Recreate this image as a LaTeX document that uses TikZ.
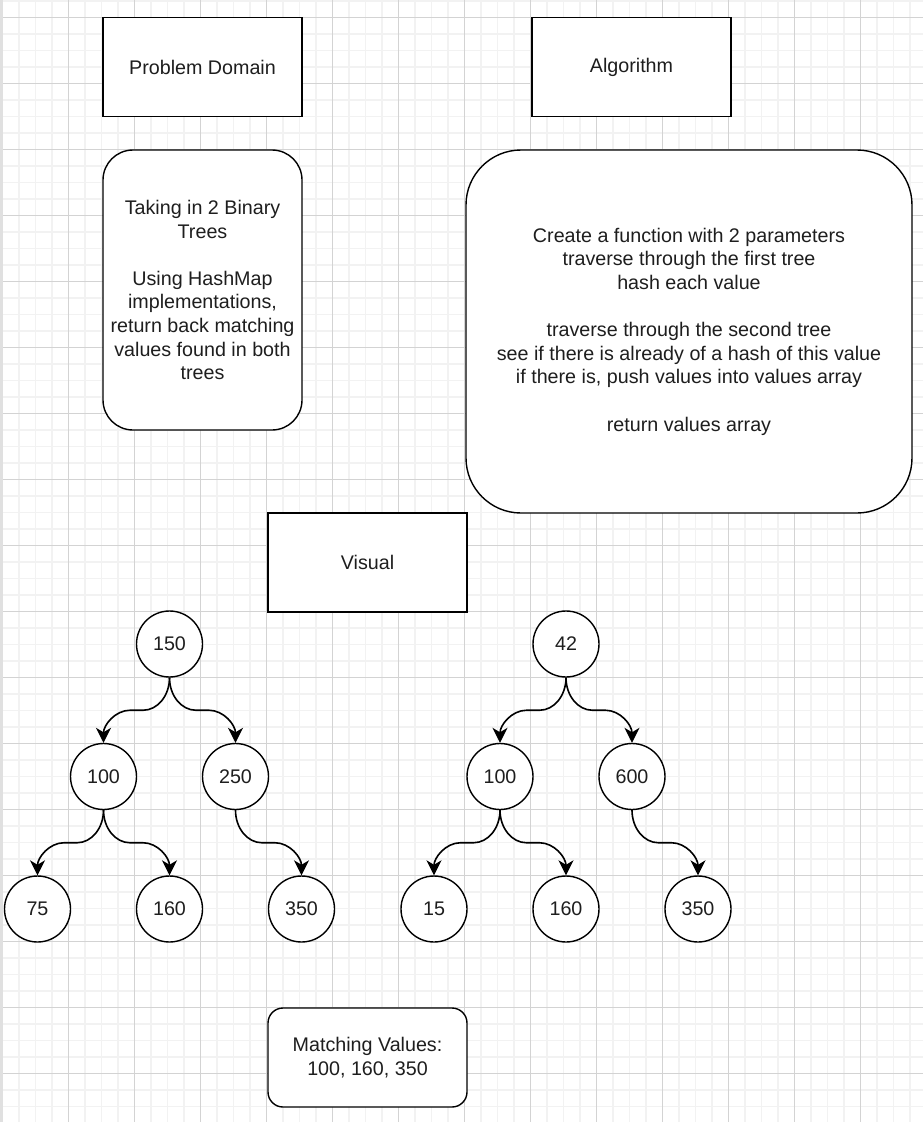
\documentclass[tikz,border=0pt]{standalone}
\usepackage{fontspec}
\setmainfont{Liberation Sans}
\usetikzlibrary{arrows.meta,calc}
\definecolor{minorc}{HTML}{F2F2F2}
\definecolor{majorc}{HTML}{D3D3D3}
\definecolor{edgec}{HTML}{E0E0E0}
\definecolor{txt}{HTML}{1E1E1E}
\begin{document}
\begin{tikzpicture}[x=1pt,y=-1pt,
  every node/.style={font=\fontsize{19.7}{23.6}\selectfont, text=txt},
  minorline/.style={draw=minorc, line width=1.6pt},
  majorline/.style={draw=majorc, line width=1pt},
  box/.style={draw=black, line width=1.4pt, fill=white, minimum width=199pt,
    minimum height=99pt, inner sep=0pt, align=center},
  tnode/.style={circle, draw=black, line width=1.4pt, fill=white,
    minimum size=66pt, inner sep=0pt},
  conn/.style={draw=black, line width=1.6pt,
    -{Stealth[length=15pt,width=15pt,inset=4.5pt]}}]
\useasboundingbox (0,0) rectangle (923,1122);
\fill[white] (0,0) rectangle (923,1122);
% grid
\foreach \i in {0,...,56} {\draw[minorline] ({2.5+16.5*\i},0) -- ({2.5+16.5*\i},1122);}
\foreach \i in {0,...,68} {\draw[minorline] (0,{0.8+16.5*\i}) -- (923,{0.8+16.5*\i});}
\foreach \i in {0,...,13} {\draw[majorline] ({2.5+66*\i},0) -- ({2.5+66*\i},1122);}
\foreach \i in {0,...,16} {\draw[majorline] (0,{17.3+66*\i}) -- (923,{17.3+66*\i});}
\fill[edgec] (0,0) rectangle (3,1122);

% boxes
\node[box] (pd) at (202.5,67) {Problem Domain};
\node[box] (alg) at (631.5,67) {Algorithm};
\node[box, minimum height=280pt, rounded corners=30pt] (pdtext) at (202.5,290)
  {Taking in 2 Binary\\Trees\\[23.6pt]Using HashMap\\implementations,\\return back matching\\values found in both\\trees};
\node[box, minimum width=446pt, minimum height=363pt, rounded corners=55pt] (algtext) at (689,331.5)
  {Create a function with 2 parameters\\traverse through the first tree\\hash each value\\[23.6pt]traverse through the second tree\\see if there is already of a hash of this value\\if there is, push values into values array\\[23.6pt]return values array};
\node[box] (vis) at (367.5,562.5) {Visual};
\node[box, rounded corners=15pt] (match) at (367.5,1057.5) {Matching Values:\\100, 160, 350};

% left tree
\node[tnode] (a150) at (169.5,644) {150};
\node[tnode] (a100) at (103.5,776.5) {100};
\node[tnode] (a250) at (235.5,776.5) {250};
\node[tnode] (a75) at (37.5,909) {75};
\node[tnode] (a160) at (169.5,909) {160};
\node[tnode] (a350) at (301.5,909) {350};

% right tree
\node[tnode] (b42) at (566,644) {42};
\node[tnode] (b100) at (500,776.5) {100};
\node[tnode] (b600) at (632,776.5) {600};
\node[tnode] (b15) at (434,909) {15};
\node[tnode] (b160) at (566,909) {160};
\node[tnode] (b350) at (698,909) {350};

% connectors
\foreach \pa/\ch in {a150/a100, a150/a250, a100/a75, a100/a160, a250/a350,
                   b42/b100, b42/b600, b100/b15, b100/b160, b600/b350} {
  \draw[conn] let \p1=(\pa.south), \p2=(\ch.north),
      \n1={(\y1+\y2)/2}, \n2={\x1+0.4*(\x2-\x1)}, \n3={\x1+0.6*(\x2-\x1)} in
    (\p1) .. controls (\x1,{\y1+0.55*(\n1-\y1)}) and ({\n2+0.55*(\x1-\n2)},\n1) .. (\n2,\n1)
    -- (\n3,\n1)
    .. controls ({\n3+0.55*(\x2-\n3)},\n1) and (\x2,{\n1+0.45*(\y2-\n1)}) .. (\p2);
}
\end{tikzpicture}
\end{document}
